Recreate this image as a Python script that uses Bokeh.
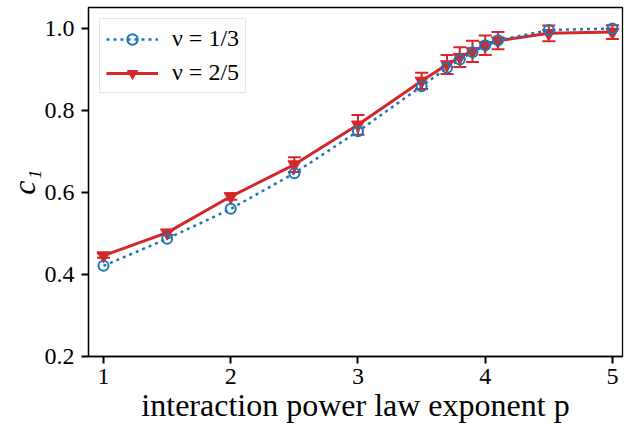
import math
from bokeh.plotting import figure
from bokeh.models import (ColumnDataSource, Whisker, TeeHead, Legend, LegendItem,
                          FixedTicker, Range1d, PrintfTickFormatter)
from bokeh.embed import file_html
from bokeh.resources import INLINE

# ---- data ----
p_values = [1.0, 1.5, 2.0, 2.5, 3.0, 3.5, 3.7, 3.8, 3.9, 4.0, 4.1, 4.5, 5.0]
c1_nu_1_3 = [0.421, 0.487, 0.560, 0.647, 0.749, 0.859, 0.904, 0.924, 0.942, 0.959, 0.971, 0.996, 1.000]
c1_nu_2_5 = [0.446, 0.502, 0.590, 0.668, 0.765, 0.872, 0.912, 0.930, 0.944, 0.959, 0.970, 0.988, 0.991]
err_nu_2_5 = [0.005, 0.006, 0.008, 0.018, 0.024, 0.020, 0.023, 0.024, 0.026, 0.024, 0.021, 0.019, 0.017]
x_ticks = [1, 2, 3, 4, 5]
y_ticks = [0.2, 0.4, 0.6, 0.8, 1.0]
legend_labels = ["ν = 1/3", "ν = 2/5"]

BLUE = "#1f77b4"
RED = "#d62728"
FONT = "Liberation Serif"

src_red = ColumnDataSource(data=dict(
    p=p_values, c=c1_nu_2_5,
    lo=[c - e for c, e in zip(c1_nu_2_5, err_nu_2_5)],
    up=[c + e for c, e in zip(c1_nu_2_5, err_nu_2_5)],
))
src_blue = ColumnDataSource(data=dict(p=p_values, c=c1_nu_1_3))

fig = figure(width=624, height=428, output_backend="svg", toolbar_location=None,
             x_range=Range1d(0.882, 5.079), y_range=Range1d(0.2, 1.051),
             min_border_left=88, min_border_right=2, min_border_top=7, min_border_bottom=72)

r_line = fig.line("p", "c", source=src_red, line_color=RED, line_width=3)
whisk = Whisker(source=src_red, base="p", upper="up", lower="lo",
                line_color=RED, line_width=2,
                upper_head=TeeHead(size=13, line_color=RED, line_width=2),
                lower_head=TeeHead(size=13, line_color=RED, line_width=2))
fig.add_layout(whisk)
r_mark = fig.scatter("p", "c", source=src_red, marker="inverted_triangle", size=13,
                     fill_color=RED, line_color=RED)
r_err_proxy = fig.scatter(x=[-10], y=[-10], marker="dash", angle=math.pi / 2, size=22,
                          line_color=RED, line_width=2.5)

b_line = fig.line("p", "c", source=src_blue, line_color=BLUE, line_width=2.5, line_dash="3 4")
b_mark = fig.scatter("p", "c", source=src_blue, marker="circle", size=10,
                     fill_color=None, line_color=BLUE, line_width=2)

legend = Legend(items=[
    LegendItem(label=legend_labels[0], renderers=[b_line, b_mark]),
    LegendItem(label=legend_labels[1], renderers=[r_line, r_err_proxy, r_mark]),
], location="top_left",
    margin=11, padding=6, spacing=7, glyph_width=52, glyph_height=26, label_standoff=14,
    label_text_font=FONT, label_text_font_size="24px", label_text_color="black",
    border_line_color="#cccccc", border_line_width=1.2,
    background_fill_color="white", background_fill_alpha=0.85)
fig.add_layout(legend)

fig.xgrid.visible = False
fig.ygrid.visible = False
fig.outline_line_color = "black"
fig.outline_line_width = 1.3
fig.xaxis.ticker = FixedTicker(ticks=x_ticks)
fig.yaxis.ticker = FixedTicker(ticks=y_ticks)
fig.yaxis.formatter = PrintfTickFormatter(format="%.1f")
fig.axis.axis_line_color = "black"
fig.axis.axis_line_width = 1.3
fig.axis.major_tick_line_width = 2
fig.axis.major_tick_line_color = "black"
fig.axis.major_tick_out = 7
fig.axis.major_tick_in = 0
fig.axis.minor_tick_line_color = None
fig.axis.major_label_text_font = FONT
fig.axis.major_label_text_font_size = "24px"
fig.axis.major_label_text_color = "black"
fig.axis.axis_label_text_font = FONT
fig.axis.axis_label_text_font_size = "32px"
fig.axis.axis_label_text_color = "black"
fig.axis.axis_label_text_font_style = "normal"

fig.xaxis.axis_label = "interaction power law exponent p"
fig.xaxis.major_label_standoff = 5
fig.xaxis.axis_label_standoff = 0
fig.yaxis.axis_label = "c₁"
fig.yaxis.axis_label_text_font_style = "italic"
fig.yaxis.major_label_standoff = 7
fig.yaxis.axis_label_standoff = 0

open("out.html", "w").write(file_html(fig, INLINE))
